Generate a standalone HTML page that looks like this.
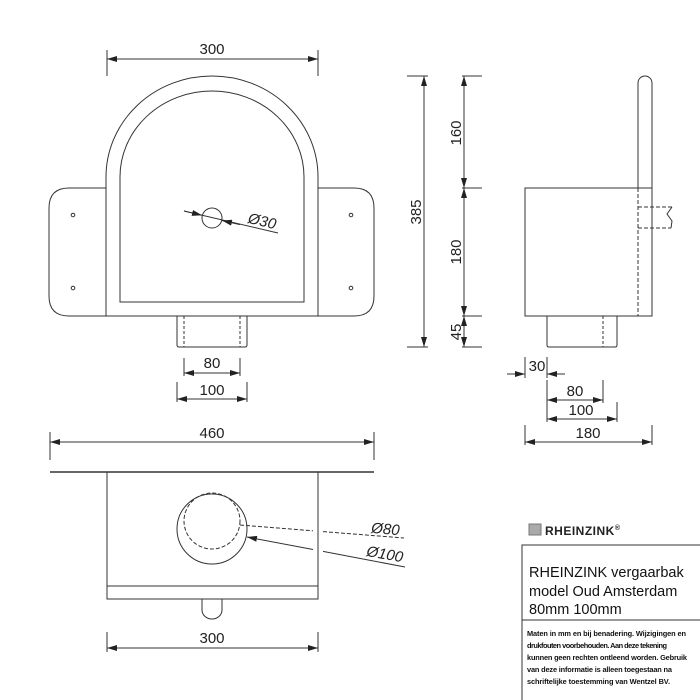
<!DOCTYPE html>
<html><head><meta charset="utf-8"><style>html,body{margin:0;padding:0;background:#fff}svg{display:block}</style></head><body>
<svg width="700" height="700" viewBox="0 0 700 700" xmlns="http://www.w3.org/2000/svg" font-family="Liberation Sans, sans-serif">
<defs>
<marker id="a" viewBox="0 0 10 6" refX="10" refY="3" markerWidth="10" markerHeight="6" orient="auto-start-reverse" markerUnits="userSpaceOnUse"><path d="M0,0 L10,3 L0,6 z" fill="#222"/></marker>
</defs>
<g stroke="#333" stroke-width="1" fill="none">
<!-- FRONT VIEW -->
<line x1="107" y1="50" x2="107" y2="76"/><line x1="318" y1="50" x2="318" y2="76"/>
<line x1="107" y1="59" x2="318" y2="59" marker-start="url(#a)" marker-end="url(#a)"/>
<path d="M106,316 L106,177 A106,101 0 0 1 318,177 L318,316 Z"/>
<path d="M120,302 L120,177 A92,86 0 0 1 304,177 L304,302 Z"/>
<path d="M106,188 L69,188 Q49,188 49,208 L49,296 Q49,316 69,316 L106,316"/>
<path d="M318,188 L354,188 Q374,188 374,208 L374,296 Q374,316 354,316 L318,316"/>
<circle cx="73" cy="215" r="1.8"/><circle cx="73" cy="288" r="1.8"/>
<circle cx="351" cy="215" r="1.8"/><circle cx="351" cy="288" r="1.8"/>
<circle cx="212" cy="218" r="10"/>
<line x1="184" y1="211" x2="278" y2="233"/>
<line x1="184" y1="211" x2="202" y2="215.3" marker-end="url(#a)"/>
<line x1="240" y1="224.6" x2="222" y2="220.5" marker-end="url(#a)"/>
<path d="M177,316 L177,345 Q177,347 179,347 L245,347 Q247,347 247,345 L247,316"/>
<line x1="184" y1="316" x2="184" y2="347" stroke-dasharray="3,2"/>
<line x1="240" y1="316" x2="240" y2="347" stroke-dasharray="3,2"/>
<line x1="184" y1="358" x2="184" y2="376"/><line x1="240" y1="358" x2="240" y2="376"/>
<line x1="184" y1="373" x2="240" y2="373" marker-start="url(#a)" marker-end="url(#a)"/>
<line x1="177" y1="382" x2="177" y2="402"/><line x1="247" y1="382" x2="247" y2="402"/>
<line x1="177" y1="399" x2="247" y2="399" marker-start="url(#a)" marker-end="url(#a)"/>
<!-- SIDE VIEW -->
<line x1="407" y1="76" x2="428" y2="76"/><line x1="407" y1="347" x2="428" y2="347"/>
<line x1="424" y1="76" x2="424" y2="347" marker-start="url(#a)" marker-end="url(#a)"/>
<line x1="462" y1="76" x2="482" y2="76"/><line x1="462" y1="188" x2="482" y2="188"/>
<line x1="462" y1="316" x2="482" y2="316"/><line x1="462" y1="347" x2="482" y2="347"/>
<line x1="464" y1="76" x2="464" y2="188" marker-start="url(#a)" marker-end="url(#a)"/>
<line x1="464" y1="188" x2="464" y2="316" marker-start="url(#a)" marker-end="url(#a)"/>
<line x1="464" y1="316" x2="464" y2="347" marker-start="url(#a)" marker-end="url(#a)"/>
<rect x="525" y="188" width="127" height="128"/>
<path d="M638,188 L638,83 A7,7 0 0 1 652,83 L652,188"/>
<line x1="638" y1="188" x2="638" y2="316" stroke-dasharray="4,2"/>
<line x1="638" y1="207" x2="672" y2="207" stroke-dasharray="4,2"/>
<line x1="638" y1="228" x2="671" y2="228" stroke-dasharray="4,2"/>
<path d="M672,207 L667,214 L672,221 L671,228"/>
<path d="M547,316 L547,345 Q547,347 549,347 L615,347 Q617,347 617,345 L617,316"/>
<line x1="603" y1="316" x2="603" y2="347" stroke-dasharray="3,2"/>
<line x1="525" y1="357" x2="525" y2="378"/><line x1="547" y1="357" x2="547" y2="378"/>
<line x1="507" y1="374" x2="525" y2="374" marker-end="url(#a)"/>
<line x1="565" y1="374" x2="547" y2="374" marker-end="url(#a)"/>
<line x1="547" y1="380" x2="547" y2="422"/><line x1="603" y1="380" x2="603" y2="403"/>
<line x1="617" y1="402" x2="617" y2="422"/>
<line x1="547" y1="400" x2="603" y2="400" marker-start="url(#a)" marker-end="url(#a)"/>
<line x1="547" y1="419" x2="617" y2="419" marker-start="url(#a)" marker-end="url(#a)"/>
<line x1="525" y1="425" x2="525" y2="445"/><line x1="652" y1="425" x2="652" y2="445"/>
<line x1="525" y1="442" x2="652" y2="442" marker-start="url(#a)" marker-end="url(#a)"/>
<!-- TOP VIEW -->
<line x1="50" y1="432" x2="50" y2="460"/><line x1="374" y1="432" x2="374" y2="460"/>
<line x1="50" y1="442" x2="374" y2="442" marker-start="url(#a)" marker-end="url(#a)"/>
<line x1="50" y1="472" x2="374" y2="472" stroke-width="1.5"/>
<path d="M107,472 L107,599 L318,599 L318,472"/>
<line x1="107" y1="586" x2="318" y2="586"/>
<circle cx="212" cy="529" r="35"/>
<circle cx="212" cy="521" r="28" stroke-dasharray="4,2"/>
<line x1="240" y1="525" x2="313" y2="530.8" stroke-dasharray="4,2"/>
<line x1="323" y1="531.6" x2="404" y2="538" stroke-dasharray="4,2"/>
<line x1="313" y1="549.5" x2="247" y2="537" marker-end="url(#a)"/>
<line x1="323" y1="551.4" x2="405" y2="567"/>
<path d="M202,599 L202,610 A10,9 0 0 0 222,610 L222,599"/>
<line x1="107" y1="632" x2="107" y2="652"/><line x1="318" y1="632" x2="318" y2="652"/>
<line x1="107" y1="648" x2="318" y2="648" marker-start="url(#a)" marker-end="url(#a)"/>
<!-- TITLE BLOCK -->
<path d="M700,545 L522,545 L522,700"/>
<line x1="522" y1="620" x2="700" y2="620"/>
</g>
<g fill="#222" font-size="15" text-anchor="middle">
<text x="212" y="54">300</text>
<text x="212" y="368">80</text>
<text x="212" y="395">100</text>
<text transform="translate(261,226) rotate(13)" font-style="italic">Ø30</text>
<text transform="translate(421,212) rotate(-90)">385</text>
<text transform="translate(461,133) rotate(-90)">160</text>
<text transform="translate(461,252) rotate(-90)">180</text>
<text transform="translate(461,332) rotate(-90)">45</text>
<text x="537" y="371">30</text>
<text x="575" y="396">80</text>
<text x="581" y="415">100</text>
<text x="588" y="438">180</text>
<text x="212" y="438">460</text>
<text x="212" y="643">300</text>
<text transform="translate(385,534) rotate(5)" font-style="italic">Ø80</text>
<text transform="translate(384,559) rotate(10)" font-style="italic">Ø100</text>
</g>
<rect x="529" y="524" width="12" height="11" fill="#aaa" stroke="#777"/>
<text x="545" y="535" font-size="12" font-weight="bold" fill="#222" letter-spacing="0.5">RHEINZINK<tspan font-size="7" dy="-5">®</tspan></text>
<g fill="#111" font-size="14.5">
<text x="529" y="577">RHEINZINK vergaarbak</text>
<text x="529" y="596">model Oud Amsterdam</text>
<text x="529" y="614">80mm 100mm</text>
</g>
<g fill="#111" font-size="7.4" font-weight="bold">
<text x="527" y="636" textLength="159">Maten in mm en bij benadering. Wijzigingen en</text>
<text x="527" y="648" textLength="140">drukfouten voorbehouden. Aan deze tekening</text>
<text x="527" y="660" textLength="160">kunnen geen rechten ontleend worden. Gebruik</text>
<text x="527" y="672" textLength="145">van deze informatie is alleen toegestaan na</text>
<text x="527" y="684" textLength="143">schriftelijke toestemming van Wentzel BV.</text>
</g>
</svg>
</body></html>
